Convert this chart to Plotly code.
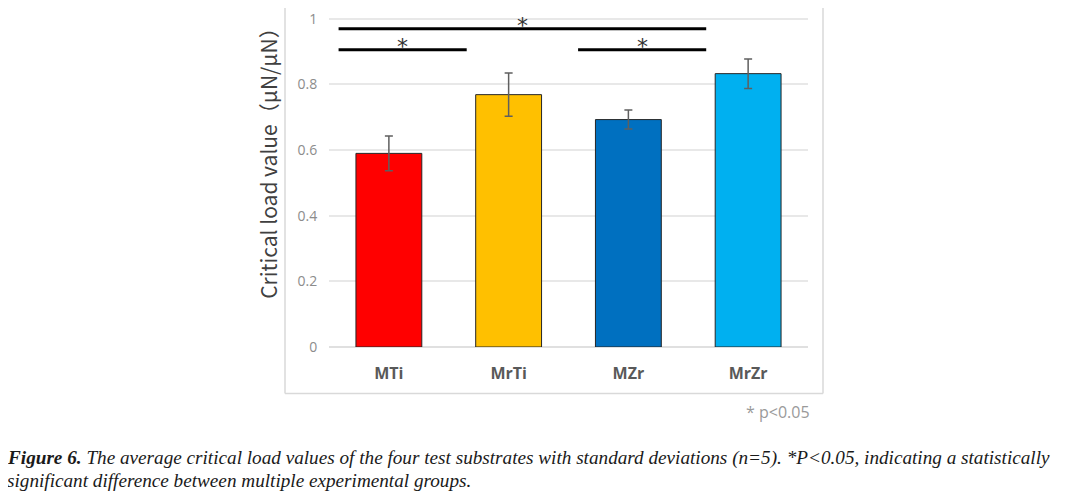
import plotly.graph_objects as go

categories = ["MTi", "MrTi", "MZr", "MrZr"]
values = [0.590, 0.769, 0.693, 0.833]
errors = [0.053, 0.066, 0.029, 0.045]
colors = ["#FF0000", "#FFC000", "#0070C0", "#00B0F0"]
y_ticks = [0, 0.2, 0.4, 0.6, 0.8, 1]
y_tick_labels = ["0", "0.2", "0.4", "0.6", "0.8", "1"]
# significance brackets: (start category index, end category index, y level)
sig_pairs = [(0, 3, 0.970), (0, 1, 0.906), (2, 3, 0.906)]

fig = go.Figure()
fig.add_trace(go.Bar(
    x=categories, y=values,
    marker=dict(color=colors, line=dict(color="#262626", width=1)),
    width=0.55,
    error_y=dict(type="data", array=errors, visible=True, color="#5f5f5f",
                 thickness=1.5, width=4),
))

OFF = 8  # page body margin
W, H = 1075 - OFF, 496 - OFF
l = 329 - OFF
r = W - (808 - OFF)
t = 1
b = H - (347.5 - OFF)
pw, ph = W - l - r, H - t - b

def px_to_paper_x(px):
    return (px - OFF - l) / pw

def px_to_paper_y(py):
    return (H - b - (py - OFF)) / ph

shapes = []
annotations = []
# chart border
box_color = "#d9d9d9"
for (xa, ya, xb, yb) in [(285, 8, 285, 394), (285, 394, 823, 394), (823, 8, 823, 394)]:
    shapes.append(dict(type="line", xref="paper", yref="paper",
                       x0=px_to_paper_x(xa), x1=px_to_paper_x(xb),
                       y0=px_to_paper_y(ya), y1=px_to_paper_y(yb),
                       line=dict(color=box_color, width=1.5)))

# significance lines
for i0, i1, yv in sig_pairs:
    x0 = i0 - 0.42
    x1 = i1 - 0.35
    shapes.append(dict(type="line", xref="x", yref="y",
                       x0=x0, x1=x1, y0=yv, y1=yv,
                       line=dict(color="black", width=3)))
    annotations.append(dict(x=(x0 + x1) / 2, y=yv, xref="x", yref="y",
                            text="*", showarrow=False, yanchor="bottom",
                            yshift=-11,
                            font=dict(size=22, color="#333333",
                                      family="DejaVu Sans")))

# y axis title
annotations.append(dict(x=px_to_paper_x(268), y=px_to_paper_y(158),
                        xref="paper", yref="paper",
                        xanchor="center", yanchor="middle",
                        text="Critical load value（μN/μN）", textangle=-90,
                        showarrow=False,
                        font=dict(size=21, color="#404040",
                                  family="Noto Sans CJK SC")))
# p note
annotations.append(dict(x=px_to_paper_x(812), y=px_to_paper_y(413),
                        xref="paper", yref="paper", xanchor="right",
                        yanchor="middle",
                        text="* p<0.05", showarrow=False,
                        font=dict(size=16, color="#9a9a9a",
                                  family="Open Sans")))
# caption
annotations.append(dict(x=px_to_paper_x(5), y=px_to_paper_y(459),
                        xref="paper", yref="paper", xanchor="left",
                        yanchor="middle",
                        text="<b><i>Figure 6.</i></b><i> The average critical load values of the four test substrates with standard deviations (n=5). *P&lt;0.05, indicating a statistically</i>",
                        showarrow=False,
                        font=dict(size=19.2, color="#1a1a1a",
                                  family="Liberation Serif")))
annotations.append(dict(x=px_to_paper_x(5), y=px_to_paper_y(481),
                        xref="paper", yref="paper", xanchor="left",
                        yanchor="middle",
                        text="<i>significant difference between multiple experimental groups.</i>",
                        showarrow=False,
                        font=dict(size=19.2, color="#1a1a1a",
                                  family="Liberation Serif")))

fig.update_layout(
    width=W, height=H,
    margin=dict(l=l, r=r, t=t, b=b, pad=0),
    paper_bgcolor="white", plot_bgcolor="white",
    showlegend=False,
    shapes=shapes, annotations=annotations,
    xaxis=dict(showline=False, showgrid=False, zeroline=False,
               ticks="outside", ticklen=12, tickcolor="rgba(0,0,0,0)",
               tickfont=dict(size=16, color="#595959", family="Open Sans"),
               tickprefix="<b>", ticksuffix="</b>",
               range=[-0.5, 3.5]),
    yaxis=dict(range=[0, 1.03], tickvals=y_ticks, ticktext=y_tick_labels,
               showgrid=True, gridcolor="#e8e8e8", gridwidth=1.5,
               zeroline=True, zerolinecolor="#e0e0e0", zerolinewidth=1.5,
               showline=False, ticks="outside", ticklen=8,
               tickcolor="rgba(0,0,0,0)",
               tickfont=dict(size=14, color="#8c8c8c", family="Open Sans")),
)

fig.write_html("out.html")
